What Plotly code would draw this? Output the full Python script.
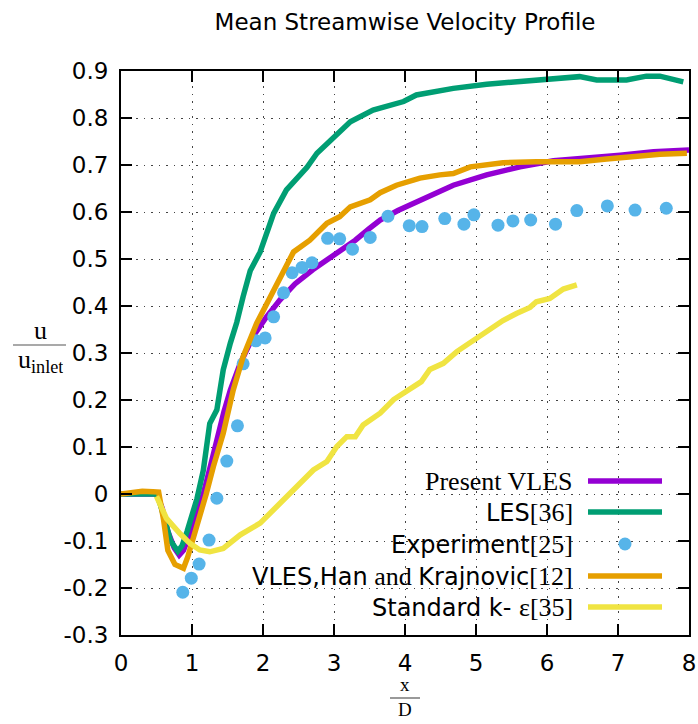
import plotly.graph_objects as go

# ---------------- data ----------------
vles_x = [0, 0.5, 0.58, 0.66, 0.75, 0.82, 0.88, 0.95, 1.02, 1.1, 1.16, 1.26, 1.35, 1.45, 1.54, 1.68,
          1.86, 2.05, 2.24, 2.45, 2.7, 2.9, 3.08, 3.3, 3.5, 3.65, 3.9, 4.21, 4.45, 4.68, 5.15, 5.62,
          6.09, 6.56, 7.03, 7.5, 8.0]
vles_y = [0, 0, -0.03, -0.08, -0.115, -0.13, -0.12, -0.095, -0.065, -0.025, 0.0, 0.06, 0.12, 0.175,
          0.221, 0.278, 0.335, 0.377, 0.413, 0.447, 0.477, 0.497, 0.516, 0.54, 0.565, 0.583, 0.603,
          0.625, 0.642, 0.657, 0.679, 0.696, 0.709, 0.714, 0.721, 0.728, 0.732]

les_x = [0, 0.5, 0.55, 0.62, 0.7, 0.8, 0.86, 0.93, 1.0, 1.07, 1.16, 1.25, 1.35, 1.44, 1.54, 1.63,
         1.72, 1.82, 1.96, 2.15, 2.33, 2.5, 2.62, 2.76, 3.0, 3.23, 3.55, 3.98, 4.16, 4.49, 4.68,
         5.15, 5.53, 5.85, 6.18, 6.46, 6.70, 7.12, 7.40, 7.59, 7.92]
les_y = [0, 0, -0.02, -0.06, -0.1, -0.122, -0.11, -0.08, -0.048, -0.01, 0.051, 0.15, 0.179, 0.264,
         0.321, 0.365, 0.42, 0.475, 0.515, 0.597, 0.647, 0.675, 0.695, 0.725, 0.76, 0.792, 0.817,
         0.835, 0.849, 0.858, 0.863, 0.872, 0.877, 0.881, 0.887, 0.888, 0.881, 0.881, 0.889,
         0.889, 0.877]

exp_x = [0.87, 0.99, 1.10, 1.24, 1.35, 1.49, 1.64, 1.72, 1.90, 2.03, 2.15, 2.29, 2.41, 2.55, 2.69,
         2.91, 3.08, 3.26, 3.51, 3.76, 4.06, 4.24, 4.56, 4.83, 4.97, 5.31, 5.52, 5.77, 6.12, 6.42,
         6.85, 7.24, 7.68]
exp_y = [-0.209, -0.179, -0.149, -0.098, -0.009, 0.070, 0.145, 0.277, 0.326, 0.332, 0.377, 0.428,
         0.471, 0.482, 0.492, 0.544, 0.543, 0.521, 0.546, 0.591, 0.571, 0.569, 0.586, 0.574, 0.594,
         0.572, 0.581, 0.583, 0.574, 0.603, 0.613, 0.604, 0.608]

han_x = [0, 0.15, 0.3, 0.45, 0.53, 0.6, 0.66, 0.76, 0.88, 0.94, 1.07, 1.2, 1.30, 1.44, 1.58, 1.72,
         1.91, 2.10, 2.24, 2.38, 2.43, 2.66, 2.90, 3.08, 3.23, 3.51, 3.65, 3.88, 4.21, 4.49, 4.68,
         4.92, 5.38, 5.85, 6.46, 6.84, 7.22, 7.59, 7.97]
han_y = [0.0, 0.002, 0.006, 0.005, 0.004, -0.055, -0.12, -0.15, -0.158, -0.134, -0.069, 0.0, 0.058,
         0.129, 0.221, 0.292, 0.363, 0.42, 0.462, 0.505, 0.515, 0.54, 0.576, 0.59, 0.611, 0.626,
         0.641, 0.657, 0.672, 0.679, 0.682, 0.696, 0.705, 0.707, 0.707, 0.713, 0.718, 0.723, 0.725]

ke_x = [0.5, 0.64, 0.83, 0.97, 1.11, 1.25, 1.44, 1.56, 1.68, 1.96, 2.19, 2.35, 2.52, 2.71, 2.90,
        3.04, 3.18, 3.30, 3.41, 3.65, 3.84, 4.02, 4.23, 4.35, 4.54, 4.73, 4.96, 5.20, 5.38, 5.57,
        5.76, 5.85, 6.04, 6.23, 6.42]
ke_y = [-0.005, -0.052, -0.084, -0.105, -0.119, -0.123, -0.116, -0.1, -0.087, -0.062, -0.027, 0.0,
        0.026, 0.051, 0.069, 0.101, 0.122, 0.122, 0.147, 0.172, 0.201, 0.218, 0.239, 0.265, 0.278,
        0.303, 0.326, 0.353, 0.369, 0.384, 0.397, 0.409, 0.416, 0.436, 0.445]

x_ticks = [0, 1, 2, 3, 4, 5, 6, 7, 8]
y_ticks = [-0.3, -0.2, -0.1, 0, 0.1, 0.2, 0.3, 0.4, 0.5, 0.6, 0.7, 0.8, 0.9]
y_tick_text = ["-0.3", "-0.2", "-0.1", "0", "0.1", "0.2", "0.3", "0.4", "0.5", "0.6", "0.7", "0.8", "0.9"]

C_VLES = "#9400D3"
C_LES = "#009E73"
C_EXP = "#56B4E9"
C_HAN = "#E69F00"
C_KE = "#F0E442"

SERIF = "Liberation Serif"
SANS = "DejaVu Sans"

def serif(t, size=26):
    return '<span style="font-family:%s;font-size:%dpx">%s</span>' % (SERIF, size, t)

legend_names = [
    serif("Present VLES"),
    "LES" + serif("[36]"),
    "Experiment" + serif("[25]"),
    "VLES,Han" + serif(" and ") + "Krajnovic" + serif("[12]"),
    "Standard k- " + serif("&#949;[35]"),
]
legend_colors = [C_VLES, C_LES, C_EXP, C_HAN, C_KE]

# ---------------- layout geometry (pixels) ----------------
W, H = 698, 724
L, R, T, B = 121, 9, 71, 89
PW, PH = W - L - R, H - T - B

def pxx(px):
    return (px - L) / PW

def pxy(py):
    return (H - B - py) / PH

fig = go.Figure()
lw = 5.5
fig.add_trace(go.Scatter(x=vles_x, y=vles_y, mode="lines", line=dict(color=C_VLES, width=lw), showlegend=False))
fig.add_trace(go.Scatter(x=les_x, y=les_y, mode="lines", line=dict(color=C_LES, width=lw), showlegend=False))
fig.add_trace(go.Scatter(x=exp_x, y=exp_y, mode="markers", marker=dict(color=C_EXP, size=13), showlegend=False))
fig.add_trace(go.Scatter(x=han_x, y=han_y, mode="lines", line=dict(color=C_HAN, width=lw), showlegend=False))
fig.add_trace(go.Scatter(x=ke_x, y=ke_y, mode="lines", line=dict(color=C_KE, width=lw), showlegend=False))

shapes = []
annotations = []

# opaque key background (stepped)
for (x0, y0) in [(403, 468), (333, 533), (247, 556)]:
    shapes.append(dict(type="rect", xref="paper", yref="paper", x0=pxx(x0), x1=pxx(686),
                       y0=pxy(624), y1=pxy(y0), fillcolor="white", line=dict(width=0), layer="between"))

key_rows = [481, 512, 544, 576, 607]
for name, col, py in zip(legend_names, legend_colors, key_rows):
    annotations.append(dict(xref="paper", yref="paper", x=pxx(575), y=pxy(py), xanchor="right",
                            yanchor="middle", text=name, showarrow=False,
                            font=dict(family=SANS, size=24, color="black")))
    if col == C_EXP:
        shapes.append(dict(type="circle", xref="paper", yref="paper", x0=pxx(618.5), x1=pxx(631.5),
                           y0=pxy(py + 6.5), y1=pxy(py - 6.5), fillcolor=C_EXP, line=dict(width=0)))
    else:
        shapes.append(dict(type="line", xref="paper", yref="paper", x0=pxx(588), x1=pxx(662),
                           y0=pxy(py), y1=pxy(py), line=dict(color=col, width=lw)))

# y-axis title: u / u_inlet
annotations.append(dict(xref="paper", yref="paper", x=pxx(40), y=pxy(330), xanchor="center", yanchor="middle",
                        text="u", showarrow=False, height=26, font=dict(family=SERIF, size=26, color="black")))
shapes.append(dict(type="line", xref="paper", yref="paper", x0=pxx(13), x1=pxx(66), y0=pxy(345), y1=pxy(345),
                   line=dict(color="#555555", width=1.2)))
annotations.append(dict(xref="paper", yref="paper", x=pxx(40), y=pxy(361), xanchor="center", yanchor="middle",
                        text="u<sub>inlet</sub>", showarrow=False, height=30,
                        font=dict(family=SERIF, size=26, color="black")))

# x-axis title: x / D (one stacked text, bar drawn between the lines)
annotations.append(dict(xref="paper", yref="paper", x=pxx(405), y=pxy(697), xanchor="center", yanchor="middle",
                        text="x<br>D", showarrow=False, font=dict(family=SERIF, size=19, color="black")))
shapes.append(dict(type="line", xref="paper", yref="paper", x0=pxx(390), x1=pxx(420), y0=pxy(698), y1=pxy(698),
                   line=dict(color="#555555", width=1.2)))

axis_common = dict(showline=True, linecolor="black", linewidth=2, mirror="allticks", ticks="inside",
                   ticklen=11, tickwidth=2, tickcolor="black", showgrid=True, gridcolor="#444444",
                   gridwidth=1, griddash="1.5px,6px", zeroline=False,
                   tickfont=dict(family=SANS, size=23, color="black"))

fig.update_layout(
    width=W, height=H,
    margin=dict(l=L, r=R, t=T, b=B, autoexpand=False),
    paper_bgcolor="white", plot_bgcolor="white",
    title=dict(text="Mean Streamwise Velocity Profile", x=0.5, xref="paper", xanchor="center",
               y=1 - 22 / H, yref="container", yanchor="middle",
               font=dict(family=SANS, size=23, color="black")),
    xaxis=dict(range=[0, 8], tickvals=x_ticks, ticktext=[str(v) for v in x_ticks],
               ticklabelstandoff=6, **axis_common),
    yaxis=dict(range=[-0.3, 0.9], tickvals=y_ticks, ticktext=y_tick_text,
               ticklabelstandoff=6, **axis_common),
    shapes=shapes, annotations=annotations, showlegend=False,
)

fig.write_html("out.html")
